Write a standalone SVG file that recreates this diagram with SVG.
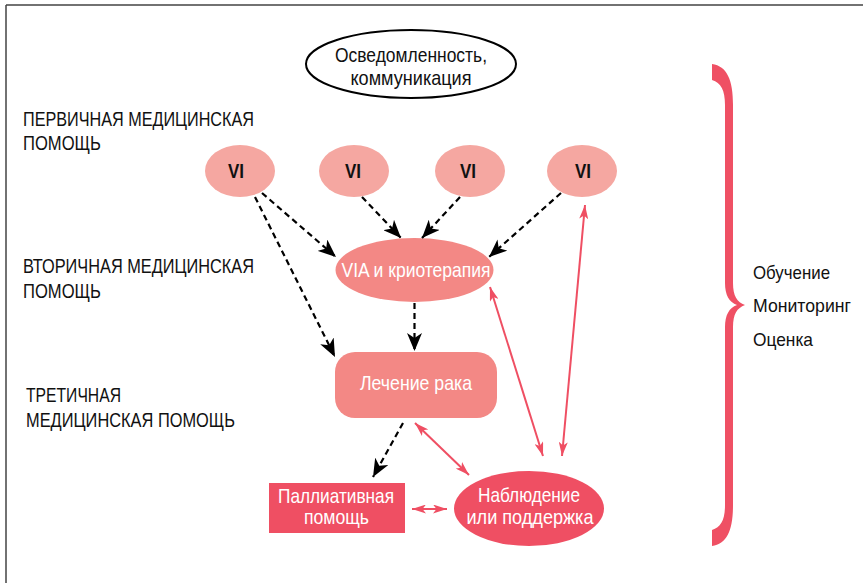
<svg xmlns="http://www.w3.org/2000/svg" width="863" height="583" viewBox="0 0 863 583">
<style>
text{font-family:"Liberation Sans",Arial,sans-serif;font-size:21px;fill:#111}
.c{text-anchor:middle}
.w{fill:#fff}
.b{font-weight:bold;font-size:20px}
.r{font-size:19px}
.vi{fill:#f5a7a1}
.mid{fill:#f38885}
.dark{fill:#ef4f63}
.dash{fill:none;stroke:#000;stroke-width:2.2;stroke-dasharray:6 4}
.red{fill:none;stroke:#ef4f63;stroke-width:2}
</style>
<defs>
<marker id="ab" markerUnits="userSpaceOnUse" markerWidth="18" markerHeight="15" refX="18" refY="7.5" orient="auto">
<path d="M0,0 L18,7.5 L0,15 L5,7.5 Z" fill="#000"/>
</marker>
<marker id="ar" markerUnits="userSpaceOnUse" markerWidth="14" markerHeight="9" refX="14" refY="4.5" orient="auto-start-reverse">
<path d="M0,0 L14,4.5 L0,9 L3.5,4.5 Z" fill="#ef4f63"/>
</marker>
</defs>
<rect width="863" height="583" fill="#fff"/>
<path d="M6,5 L863,5 M6,5 L6,583" fill="none" stroke="#444" stroke-width="1.5"/>

<g id="awareness">
<ellipse cx="411" cy="64" rx="105" ry="34" fill="#fff" stroke="#000" stroke-width="2"/>
<text class="c" x="411" y="62" textLength="152" lengthAdjust="spacingAndGlyphs">Осведомленность,</text>
<text class="c" x="411" y="85" textLength="121" lengthAdjust="spacingAndGlyphs">коммуникация</text>
</g>

<g id="levels">
<text x="23" y="126" textLength="231" lengthAdjust="spacingAndGlyphs">ПЕРВИЧНАЯ МЕДИЦИНСКАЯ</text>
<text x="23" y="150" textLength="78" lengthAdjust="spacingAndGlyphs">ПОМОЩЬ</text>
<text x="23" y="273" textLength="231" lengthAdjust="spacingAndGlyphs">ВТОРИЧНАЯ МЕДИЦИНСКАЯ</text>
<text x="23" y="298" textLength="78" lengthAdjust="spacingAndGlyphs">ПОМОЩЬ</text>
<text x="26" y="402" textLength="95" lengthAdjust="spacingAndGlyphs">ТРЕТИЧНАЯ</text>
<text x="26" y="427" textLength="209" lengthAdjust="spacingAndGlyphs">МЕДИЦИНСКАЯ ПОМОЩЬ</text>
</g>

<g id="vi1"><ellipse class="vi" cx="240" cy="171" rx="35" ry="26"/><text class="c b" x="236" y="178" textLength="16" lengthAdjust="spacingAndGlyphs">VI</text></g>
<g id="vi2"><ellipse class="vi" cx="354" cy="171" rx="35" ry="26"/><text class="c b" x="353" y="178" textLength="16" lengthAdjust="spacingAndGlyphs">VI</text></g>
<g id="vi3"><ellipse class="vi" cx="470" cy="171" rx="35" ry="26"/><text class="c b" x="468" y="178" textLength="16" lengthAdjust="spacingAndGlyphs">VI</text></g>
<g id="vi4"><ellipse class="vi" cx="582" cy="171" rx="35" ry="26"/><text class="c b" x="583" y="178" textLength="16" lengthAdjust="spacingAndGlyphs">VI</text></g>

<g id="via"><ellipse class="mid" cx="414.5" cy="270" rx="79" ry="32"/><text class="c w" x="416" y="277" textLength="149" lengthAdjust="spacingAndGlyphs">VIA и криотерапия</text></g>

<g id="treatment"><rect class="mid" x="335" y="352" width="162" height="66" rx="20"/><text class="c w" x="416" y="390" textLength="112" lengthAdjust="spacingAndGlyphs">Лечение рака</text></g>

<g id="palliative"><rect class="dark" x="269" y="483" width="136" height="50"/><text class="c w" x="336" y="503" textLength="116" lengthAdjust="spacingAndGlyphs">Паллиативная</text><text class="c w" x="336.5" y="524" textLength="65" lengthAdjust="spacingAndGlyphs">помощь</text></g>

<g id="followup"><ellipse class="dark" cx="529" cy="508.5" rx="75" ry="37.5"/><text class="c w" x="529" y="502" textLength="102" lengthAdjust="spacingAndGlyphs">Наблюдение</text><text class="c w" x="530" y="524" textLength="127" lengthAdjust="spacingAndGlyphs">или поддержка</text></g>

<g id="brace">
<path d="M712,64 C727,66 733,80 733,105 L733,283 C733,296 737,302 745,305 C737,308 733,314 733,327 L733,505 C733,530 727,544 712,546 L712,530 C721,527 725,520 725,505 L725,327 C725,315 729,308 737,305 C729,302 725,295 725,283 L725,105 C725,90 721,83 712,80 Z" fill="#ef5064"/>
<text class="r" x="753" y="279" textLength="77" lengthAdjust="spacingAndGlyphs">Обучение</text>
<text class="r" x="753" y="312" textLength="98" lengthAdjust="spacingAndGlyphs">Мониторинг</text>
<text class="r" x="753" y="346" textLength="60" lengthAdjust="spacingAndGlyphs">Оценка</text>
</g>

<g id="connectors">
<line class="dash" x1="262" y1="193" x2="336" y2="257" marker-end="url(#ab)"/>
<line class="dash" x1="255" y1="197" x2="335" y2="357" marker-end="url(#ab)"/>
<line class="dash" x1="362" y1="197" x2="401" y2="238" marker-end="url(#ab)"/>
<line class="dash" x1="460" y1="197" x2="422" y2="238" marker-end="url(#ab)"/>
<line class="dash" x1="561" y1="193" x2="489" y2="257" marker-end="url(#ab)"/>
<line class="dash" x1="414.5" y1="303" x2="414.5" y2="351" marker-end="url(#ab)"/>
<line class="dash" x1="403" y1="423" x2="373" y2="477" marker-end="url(#ab)"/>
<line class="red" x1="490" y1="287" x2="543" y2="456" marker-start="url(#ar)" marker-end="url(#ar)"/>
<line class="red" x1="585" y1="205" x2="562" y2="456" marker-start="url(#ar)" marker-end="url(#ar)"/>
<line class="red" x1="415" y1="423" x2="469" y2="475" marker-start="url(#ar)" marker-end="url(#ar)"/>
<line class="red" x1="412" y1="509" x2="447" y2="509" marker-start="url(#ar)" marker-end="url(#ar)"/>
</g>
</svg>
